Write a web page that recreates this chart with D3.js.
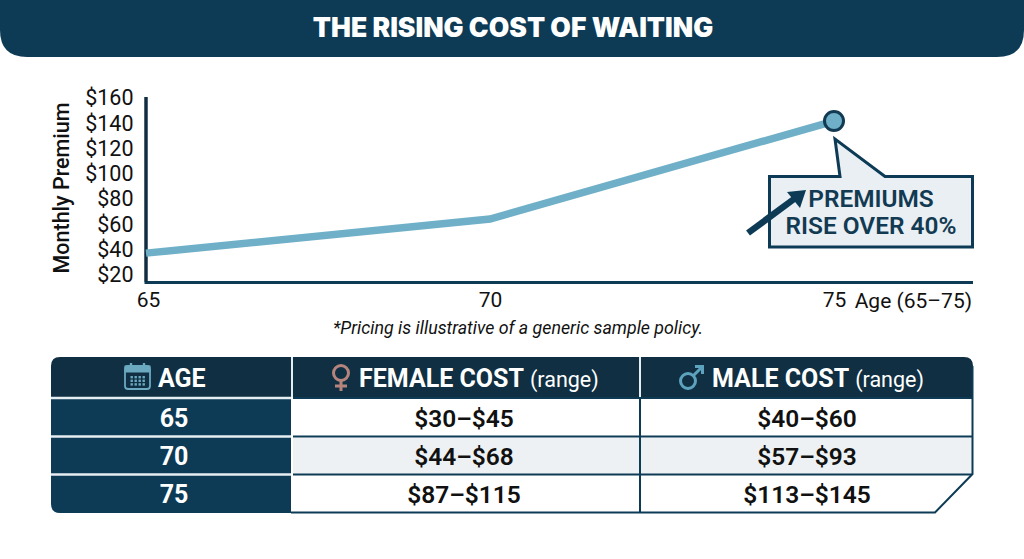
<!DOCTYPE html>
<html><head><meta charset="utf-8">
<script src="https://cdnjs.cloudflare.com/ajax/libs/d3/7.8.5/d3.min.js"></script>
<style>html,body{margin:0;padding:0;background:#fff}svg{display:block}text{font-family:Roboto,sans-serif}</style>
</head><body><svg id="c" width="1024" height="559"></svg>
<script>
const ages=[65,70,75];
const premium=[36.5,63.5,141];
const yTicks=[20,40,60,80,100,120,140,160];
const femaleCost=["$30–$45","$44–$68","$87–$115"];
const maleCost=["$40–$60","$57–$93","$113–$145"];
const navy="#0d3b56",dark="#102f42",teal="#6fb0c8",ink="#111";
const svg=d3.select("#c");
svg.append("rect").attr("width",1024).attr("height",559).attr("fill","#fff");

// banner
svg.append("path").attr("d","M0,0H1024V30Q1024,57 997,57H27Q0,57 0,30Z").attr("fill",navy);
svg.append("text").attr("x",513).attr("y",37).attr("text-anchor","middle").attr("fill","#fff")
 .attr("font-size",26.5).attr("font-weight",900).text("THE RISING COST OF WAITING")
 .style("font-family","Inter,Roboto,sans-serif");

// chart
const x=d3.scaleLinear().domain([65,75]).range([146,834]);
const y=d3.scaleLinear().domain([20,160]).range([274,97]);
const g=svg.append("g");
const yAxis=g.append("g").attr("transform","translate(133.5,0)").call(d3.axisLeft(y).tickValues(yTicks).tickSize(0).tickPadding(0).tickFormat(d=>"$"+d));
yAxis.select(".domain").remove();
yAxis.selectAll("text").attr("font-size",21.5).attr("fill",ink).attr("dy","0.36em").style("font-family","Roboto,sans-serif");
const xAxis=g.append("g").attr("transform","translate(0,292)").call(d3.axisBottom(x).tickValues(ages).tickSize(0).tickPadding(0).tickFormat(d=>d));
xAxis.select(".domain").remove();
xAxis.selectAll("text").attr("font-size",21).attr("fill",ink).attr("dy","0.71em").style("font-family","Roboto,sans-serif");
xAxis.selectAll(".tick").filter(d=>d===65).select("text").attr("dx",2);
g.append("path").attr("d","M146,97V282.5H973").attr("fill","none").attr("stroke",navy).attr("stroke-width",3);
g.append("path").attr("d","M146,97V282").attr("fill","none").attr("stroke","#122c40").attr("stroke-width",3);
g.append("text").attr("transform","translate(69,188) rotate(-90)").attr("text-anchor","middle").attr("font-size",21.5).attr("font-weight",500).attr("fill",ink).text("Monthly Premium");
g.append("text").attr("x",972).attr("y",308).attr("text-anchor","end").attr("font-size",21).attr("fill",ink).text("Age (65–75)");
g.append("path").datum(ages.map((a,i)=>[a,premium[i]])).attr("d",d3.line().x(d=>x(d[0])).y(d=>y(d[1]))).attr("fill","none").attr("stroke",teal).attr("stroke-width",7.5);
g.append("circle").attr("cx",x(75)).attr("cy",y(141)).attr("r",9.5).attr("fill",teal).attr("stroke","#123a52").attr("stroke-width",3);

// callout
g.append("path").attr("d","M769.5,176.5H840L835,139L885,176.5H972.5V247H769.5Z").attr("fill","#e9eff3").attr("stroke",navy).attr("stroke-width",3);
g.append("line").attr("x1",748).attr("y1",233).attr("x2",794).attr("y2",199).attr("stroke",navy).attr("stroke-width",6.5);
g.append("path").attr("d","M806,190L787,192L800,208Z").attr("fill",navy);
const cc=g.append("g").attr("text-anchor","middle").attr("fill","#123a52").attr("font-size",24.4).attr("font-weight",600);
cc.append("text").attr("x",871).attr("y",207).text("PREMIUMS");
cc.append("text").attr("x",871).attr("y",234).text("RISE OVER 40%");

// footnote
svg.append("text").attr("x",518).attr("y",334).attr("text-anchor","middle").attr("font-size",17.8).attr("font-style","italic").attr("fill",ink).text("*Pricing is illustrative of a generic sample policy.");

// table
const L=51,R=973,T=357,B=513,c1=291,c2=640;
const defs=svg.append("defs");
defs.append("clipPath").attr("id","tbl").append("path").attr("d",`M${L+9},${T}H${R-9}Q${R},${T} ${R},${T+9}V474L935,${B}H${L+9}Q${L},${B} ${L},${B-9}V${T+9}Q${L},${T} ${L+9},${T}Z`);
const t=svg.append("g");
const tb=t.append("g").attr("clip-path","url(#tbl)");
const rowY=[400,438,476],rowH=[36,36,37];
tb.append("rect").attr("x",L).attr("y",T).attr("width",R-L).attr("height",B-T).attr("fill","#fff");
tb.append("rect").attr("x",L).attr("y",T).attr("width",R-L).attr("height",40).attr("fill",dark);
tb.append("rect").attr("x",L).attr("y",397).attr("width",c1-L).attr("height",B-397).attr("fill",navy);
tb.selectAll("rect.alt").data([1]).join("rect").attr("class","alt").attr("x",c1+2).attr("y",rowY[1]).attr("width",R-c1).attr("height",rowH[1]).attr("fill","#eef1f4");
// rules
[398,436.5,474.5].forEach(v=>{
  tb.append("line").attr("x1",L).attr("x2",c1).attr("y1",v).attr("y2",v).attr("stroke","#e6eef2").attr("stroke-width",2.5);
  tb.append("line").attr("x1",c1+2).attr("x2",R).attr("y1",v).attr("y2",v).attr("stroke",navy).attr("stroke-width",2);
});
tb.append("line").attr("x1",c1+1).attr("x2",c1+1).attr("y1",T).attr("y2",397).attr("stroke","#e6eef2").attr("stroke-width",2);
tb.append("line").attr("x1",c2).attr("x2",c2).attr("y1",T).attr("y2",397).attr("stroke","#e6eef2").attr("stroke-width",2);
tb.append("line").attr("x1",c2).attr("x2",c2).attr("y1",397).attr("y2",B).attr("stroke",navy).attr("stroke-width",2);
t.append("path").attr("d",`M${c1},${B-.5}H935L${R-.5},474V${T+9}`).attr("fill","none").attr("stroke",navy).attr("stroke-width",2);

// header text
const hd=t.append("g").attr("fill","#fff");
hd.append("text").attr("x",158).attr("y",387).attr("font-size",25).attr("font-weight",700).text("AGE");
const f=hd.append("text").attr("x",359).attr("y",387);
f.append("tspan").attr("font-size",25).attr("font-weight",700).text("FEMALE COST");
f.append("tspan").attr("font-size",21.5).attr("dx",6).text("(range)");
const m=hd.append("text").attr("x",712).attr("y",387);
m.append("tspan").attr("font-size",25).attr("font-weight",700).text("MALE COST");
m.append("tspan").attr("font-size",21.5).attr("dx",6).text("(range)");

// body
ages.forEach((a,i)=>{
  const cy=rowY[i]+rowH[i]/2+8.5;
  t.append("text").attr("x",174).attr("y",cy).attr("text-anchor","middle").attr("fill","#fff").attr("font-size",25).attr("font-weight",700).text(a);
  t.append("text").attr("x",464).attr("y",cy).attr("text-anchor","middle").attr("fill",ink).attr("font-size",24.5).attr("font-weight",600).text(femaleCost[i]);
  t.append("text").attr("x",807).attr("y",cy).attr("text-anchor","middle").attr("fill",ink).attr("font-size",24.5).attr("font-weight",600).text(maleCost[i]);
});

// icons
const cal=t.append("g").attr("stroke","#6aa9c0").attr("fill","none");
cal.append("rect").attr("x",125).attr("y",366).attr("width",25).attr("height",23).attr("rx",3).attr("stroke-width",1.8);
cal.append("rect").attr("x",125).attr("y",366).attr("width",25).attr("height",6).attr("fill","#6aa9c0").attr("stroke-width",1);
cal.append("path").attr("d","M131,363V369M144,363V369").attr("stroke-width",2.4);
cal.append("g").attr("stroke","none").attr("fill","#6aa9c0").selectAll("rect").data(d3.range(12)).join("rect").attr("x",d=>130.5+(d%4)*4).attr("y",d=>376+Math.floor(d/4)*3.6).attr("width",2.4).attr("height",2.4);
const fe=t.append("g").attr("stroke","#b5847c").attr("fill","none").attr("stroke-width",3);
fe.append("circle").attr("cx",341).attr("cy",373).attr("r",7.5);
fe.append("path").attr("d","M341,381V391M335,386H347");
const ma=t.append("g").attr("stroke","#5ea3bd").attr("fill","none").attr("stroke-width",3);
ma.append("circle").attr("cx",688).attr("cy",381).attr("r",7.5);
ma.append("path").attr("d","M693.5,375.5L702,367M695,366.5H702.5V374");
</script></body></html>
